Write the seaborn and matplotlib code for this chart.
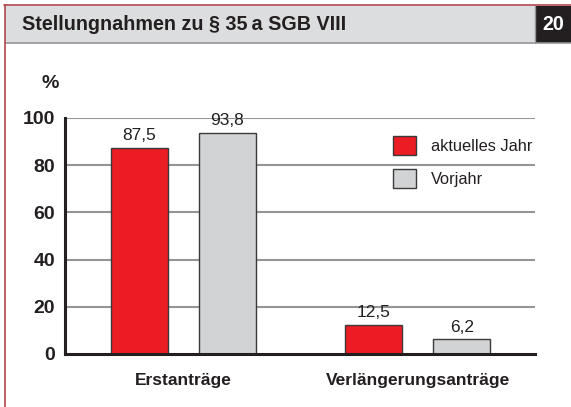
import matplotlib
matplotlib.use("Agg")
import matplotlib.pyplot as plt
import seaborn as sns
import pandas as pd
from matplotlib.patches import Rectangle
from matplotlib.lines import Line2D

categories = ["Erstanträge", "Verlängerungsanträge"]
series = ["aktuelles Jahr", "Vorjahr"]
aktuell = [87.5, 12.5]
vorjahr = [93.8, 6.2]
labels_aktuell = ["87,5", "12,5"]
labels_vorjahr = ["93,8", "6,2"]
yticks = [0, 20, 40, 60, 80, 100]
title = "Stellungnahmen zu § 35\u2009a SGB VIII"
number = "20"

RED = "#ec1c24"
GREY = "#d1d3d4"
FONT = ["Liberation Sans", "DejaVu Sans"]

sns.set_style("white")
plt.rcParams["font.family"] = FONT

df = pd.DataFrame({
    "cat": categories * 2,
    "series": [series[0]] * 2 + [series[1]] * 2,
    "val": aktuell + vorjahr,
})

fig = plt.figure(figsize=(5.71, 4.07), dpi=100)
ax = fig.add_axes([65 / 571, 1 - 354 / 407, (535 - 65) / 571, (354 - 118) / 407])

sns.barplot(data=df, x="cat", y="val", hue="series", order=categories,
            hue_order=series, palette=[RED, GREY], width=0.75, gap=0.352,
            saturation=1, edgecolor="#3a3a3a", linewidth=1.0, ax=ax,
            legend=False, zorder=3)

ax.set_ylim(0, 100)
ax.set_xlim(-0.505, 1.5)
ax.set_yticks(yticks)
ax.set_yticklabels([str(t) for t in yticks], fontsize=14, fontweight="bold",
                   color="#231f20")
ax.set_xticks([0, 1])
ax.set_xticklabels(categories, fontsize=12.5, fontweight="bold", color="#231f20")
ax.tick_params(axis="y", length=0, pad=7)
ax.tick_params(axis="x", length=0, pad=14)
ax.set_xlabel("")
ax.set_ylabel("")
for t in [20, 40, 60, 80, 100]:
    ax.axhline(t, color="#939598", lw=1.5, zorder=1)
for s in ["top", "right"]:
    ax.spines[s].set_visible(False)
for s in ["left", "bottom"]:
    ax.spines[s].set_color("#231f20")
    ax.spines[s].set_linewidth(2.2)
    ax.spines[s].set_zorder(5)

for cont, labs in zip(ax.containers, [labels_aktuell, labels_vorjahr]):
    ax.bar_label(cont, labels=labs, padding=3, fontsize=12.5, color="#231f20")

# legend
handles = [Rectangle((0, 0), 1, 1, facecolor=c, edgecolor="#3a3a3a", lw=1.0)
           for c in [RED, GREY]]
ax.legend(handles, series, loc="upper left", bbox_to_anchor=(0.698, 0.924),
          borderaxespad=0, borderpad=0,
          frameon=False, fontsize=11.8, handlelength=1.4, handleheight=1.4,
          labelspacing=0.85, handletextpad=0.9, labelcolor="#231f20")

fig.text(50 / 571, 1 - 83 / 407, "%", fontsize=14, fontweight="bold",
         color="#231f20", ha="center", va="center")

# header
fig.patches.append(Rectangle((5 / 571, 1 - 43 / 407), 530 / 571, 37 / 407,
                             transform=fig.transFigure, facecolor="#dcddde",
                             edgecolor="none", zorder=0))
fig.patches.append(Rectangle((535 / 571, 1 - 43 / 407), 36 / 571, 37 / 407,
                             transform=fig.transFigure, facecolor="#231f20",
                             edgecolor="none", zorder=0))
fig.lines.append(Line2D([5 / 571, 1], [1 - 43 / 407] * 2, transform=fig.transFigure,
                        color="#939598", lw=1.2))
fig.lines.append(Line2D([534.5 / 571] * 2, [1 - 43 / 407, 1 - 6 / 407],
                        transform=fig.transFigure, color="#939598", lw=1.0))
fig.lines.append(Line2D([4 / 571, 1], [1 - 5 / 407] * 2, transform=fig.transFigure,
                        color="#b0474d", lw=1.2))
fig.lines.append(Line2D([4.5 / 571] * 2, [0, 1 - 5 / 407], transform=fig.transFigure,
                        color="#b0474d", lw=1.2))
fig.text(22 / 571, 1 - 25 / 407, title, fontsize=14.2, fontweight="bold",
         color="#231f20", ha="left", va="center")
fig.text(553 / 571, 1 - 25 / 407, number, fontsize=14.2, fontweight="bold",
         color="white", ha="center", va="center")

fig.savefig("out.png", dpi=100)
